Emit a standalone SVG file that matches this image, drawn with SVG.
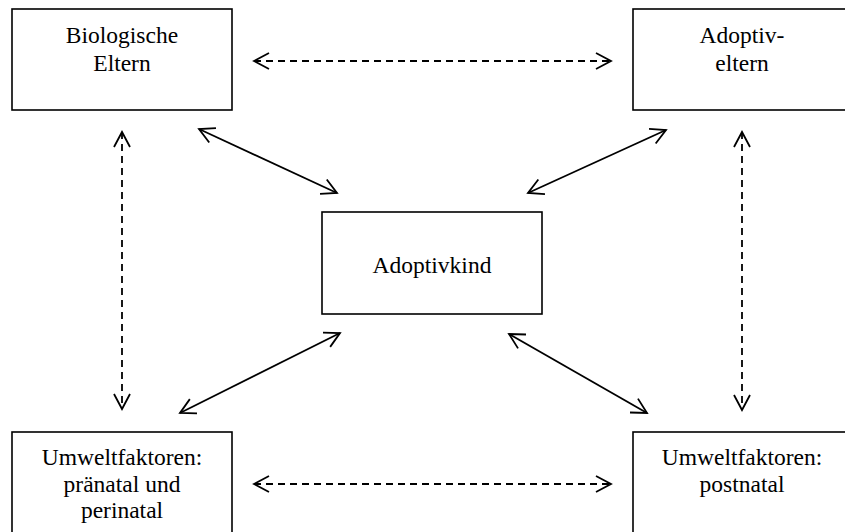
<svg xmlns="http://www.w3.org/2000/svg" width="845" height="532" viewBox="0 0 845 532">
<style>
.box{fill:#fff;stroke:#000;stroke-width:1.6}
.t{font-family:"Liberation Serif","Times New Roman",serif;font-size:23.5px;fill:#000;text-anchor:middle}
.c{fill:none;stroke:#000;stroke-width:1.8}
.d{stroke-dasharray:7 5}
</style>
<defs>
<marker id="ah" viewBox="0 0 20 20" refX="18" refY="10" markerWidth="20" markerHeight="20" markerUnits="userSpaceOnUse" orient="auto-start-reverse">
<path d="M3,2 L18,10 L3,18" fill="none" stroke="#000" stroke-width="1.8" stroke-dasharray="none"/>
</marker>
</defs>
<rect width="845" height="532" fill="#fff"/>
<g id="bio">
<rect class="box" x="12" y="9" width="220" height="101"/>
<text class="t" x="122" y="43">Biologische</text>
<text class="t" x="122" y="71">Eltern</text>
</g>
<g id="adoptiveltern">
<rect class="box" x="633" y="9" width="220" height="101"/>
<text class="t" x="742" y="43">Adoptiv-</text>
<text class="t" x="742" y="71">eltern</text>
</g>
<g id="kind">
<rect class="box" x="322" y="212" width="220" height="102"/>
<text class="t" x="432" y="273">Adoptivkind</text>
</g>
<g id="praenatal">
<rect class="box" x="12" y="432" width="220" height="101"/>
<text class="t" x="122" y="465">Umweltfaktoren:</text>
<text class="t" x="122" y="492">pränatal und</text>
<text class="t" x="122" y="518">perinatal</text>
</g>
<g id="postnatal">
<rect class="box" x="633" y="432" width="220" height="101"/>
<text class="t" x="742" y="465">Umweltfaktoren:</text>
<text class="t" x="742" y="492">postnatal</text>
</g>
<g id="connectors">
<line class="c d" x1="254" y1="61" x2="611" y2="61" marker-start="url(#ah)" marker-end="url(#ah)"/>
<line class="c d" x1="254" y1="484" x2="611" y2="484" marker-start="url(#ah)" marker-end="url(#ah)"/>
<line class="c d" x1="122" y1="132" x2="122" y2="409" marker-start="url(#ah)" marker-end="url(#ah)"/>
<line class="c d" x1="742" y1="132" x2="742" y2="410" marker-start="url(#ah)" marker-end="url(#ah)"/>
<line class="c" x1="199" y1="129" x2="337" y2="193" marker-start="url(#ah)" marker-end="url(#ah)"/>
<line class="c" x1="666" y1="130" x2="528" y2="193" marker-start="url(#ah)" marker-end="url(#ah)"/>
<line class="c" x1="180" y1="413" x2="340" y2="333" marker-start="url(#ah)" marker-end="url(#ah)"/>
<line class="c" x1="509" y1="334" x2="647" y2="413" marker-start="url(#ah)" marker-end="url(#ah)"/>
</g>
</svg>
